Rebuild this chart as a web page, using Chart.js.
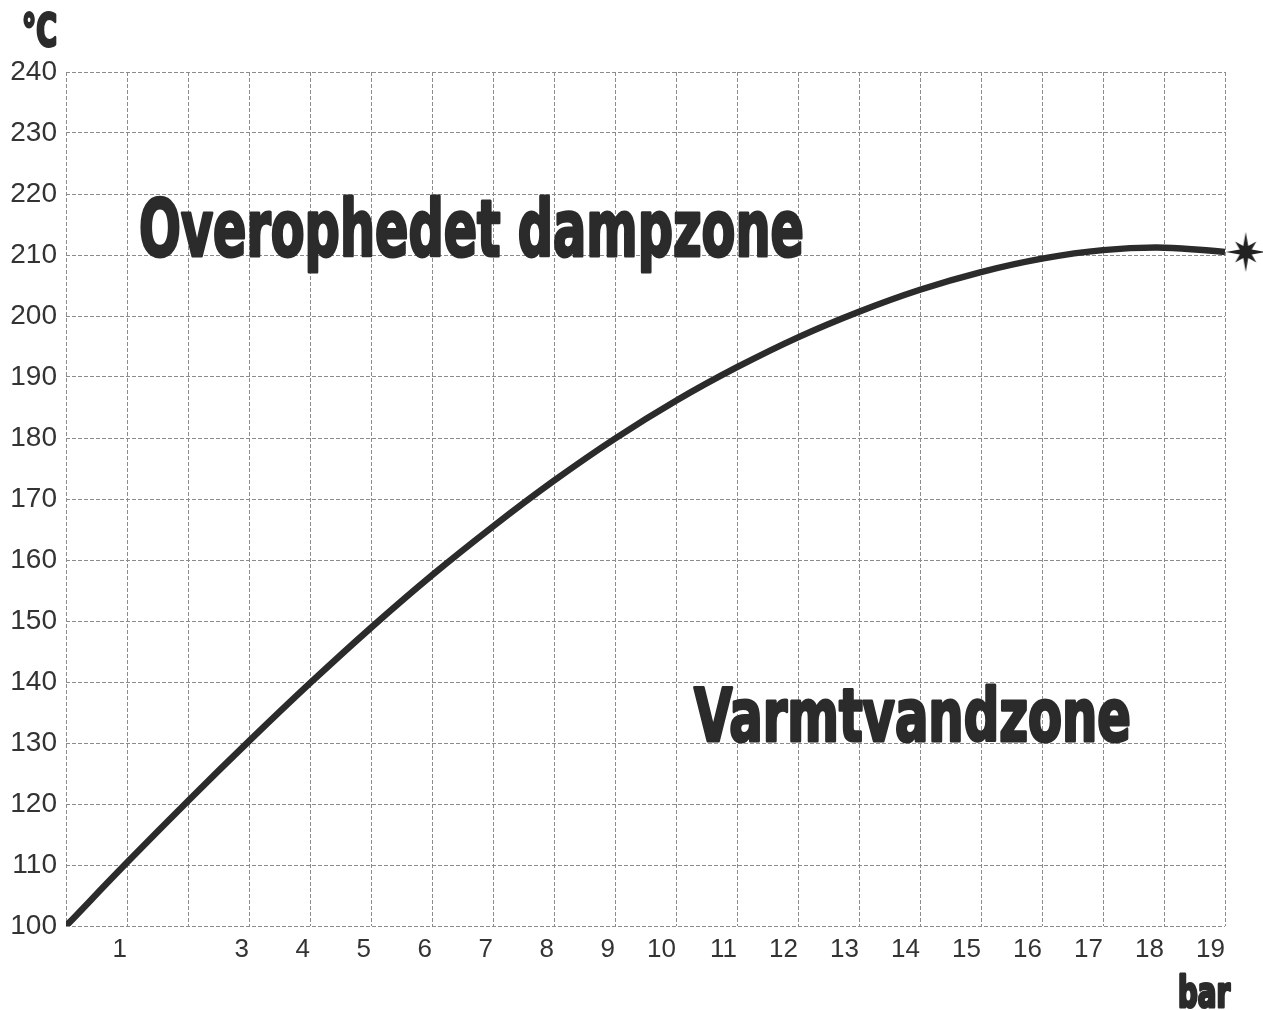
<!DOCTYPE html>
<html>
<head>
<meta charset="utf-8">
<script src="https://cdn.jsdelivr.net/npm/chart.js@4/dist/chart.umd.min.js"></script>
<style>
  html, body { margin: 0; padding: 0; background: #fff; }
  #wrap { width: 1263px; height: 1010px; }
</style>
</head>
<body>
<div id="wrap"><canvas id="steam-graph"></canvas></div>
<script>
"use strict";
// values
const pressure = [0, 1, 2, 3, 4, 5, 6, 7, 8, 9, 10, 11, 12, 13, 14, 15, 16, 17, 18, 19];
const temperature = [100, 110.4, 120.5, 130.3, 139.8, 148.9, 157.5, 165.5, 173.0, 179.9, 186.1, 191.6, 196.5, 200.7, 204.3, 207.2, 209.4, 210.8, 211.2, 210.5];
const hiddenXLabels = [0, 2];
const yTicks = [100, 110, 120, 130, 140, 150, 160, 170, 180, 190, 200, 210, 220, 230, 240];
const starPoint = [{ x: 19.34, y: 210.5 }];

const ink = '#2b2b2b';
const gridGray = '#8c8c8c';

// eight-pointed star used as the point style of the end marker
function makeStar() {
    const c = document.createElement('canvas');
    c.width = 42;
    c.height = 42;
    const g = c.getContext('2d');
    g.fillStyle = '#222';
    g.beginPath();
    for (let i = 0; i < 16; i++) {
        const a = -Math.PI / 2 + i * Math.PI / 8;
        let r = 6.5;
        if (i % 2 === 0) r = (i % 4 === 0) ? 20 : 15;
        const px = 21 + r * Math.cos(a);
        const py = 21 + r * Math.sin(a);
        if (i === 0) g.moveTo(px, py); else g.lineTo(px, py);
    }
    g.closePath();
    g.fill();
    return c;
}

const headline = "bold 80px 'Liberation Sans Narrow', 'DejaVu Sans Condensed', 'Liberation Sans', sans-serif";
function heavyText(ctx, text, x, y, w, size) {
    ctx.save();
    ctx.font = headline.replace('80px', size + 'px');
    ctx.fillStyle = ink;
    ctx.strokeStyle = ink;
    ctx.lineWidth = 3;
    ctx.lineJoin = 'round';
    ctx.textAlign = 'left';
    ctx.textBaseline = 'alphabetic';
    ctx.fillText(text, x, y, w);
    ctx.strokeText(text, x, y, w);
    ctx.restore();
}

const labelsPlugin = {
    id: 'zoneLabels',
    afterDraw(chart) {
        const ctx = chart.ctx;
        heavyText(ctx, 'Overophedet dampzone', 139, 256, 665, 79);
        heavyText(ctx, 'Varmtvandzone', 694, 741, 437, 73);
        heavyText(ctx, '°C', 22, 46, 35, 45);
        heavyText(ctx, 'bar', 1178, 1007, 52, 42);
    }
};

const config = {
    type: 'line',
    data: {
        datasets: [{
                label: 'Mætningstemperatur',
                data: pressure.map((p, i) => ({ x: p, y: temperature[i] })),
                borderColor: ink,
                borderWidth: 6.5,
                pointRadius: 0,
                fill: false,
                tension: 0.4
            }, {
                label: 'Kritisk punkt',
                data: starPoint,
                showLine: false,
                pointStyle: makeStar(),
                pointRadius: 30,
                pointHoverRadius: 30,
                clip: false
            }]
    },
    options: {
        responsive: true,
        maintainAspectRatio: false,
        animation: false,
        events: [],
        layout: { padding: { left: 0, top: 72, right: 38, bottom: 44 } },
        plugins: { legend: { display: false }, tooltip: { enabled: false } },
        scales: {
            x: {
                type: 'linear',
                min: 0,
                max: 19,
                afterFit(scale) { scale.height = 40; },
                afterBuildTicks(scale) { scale.ticks = pressure.map(v => ({ value: v })); },
                grid: { color: gridGray, lineWidth: 1, drawTicks: false },
                border: { display: false, dash: [4, 2] },
                ticks: {
                    autoSkip: false,
                    maxRotation: 0,
                    align: 'end',
                    padding: 8,
                    color: '#333',
                    font: { family: "'Liberation Sans', Arial, sans-serif", size: 26 },
                    callback: (v) => hiddenXLabels.includes(v) ? '' : String(v)
                }
            },
            y: {
                type: 'linear',
                min: 100,
                max: 240,
                afterFit(scale) { scale.width = 66; },
                afterBuildTicks(scale) { scale.ticks = yTicks.map(v => ({ value: v })); },
                grid: { color: gridGray, lineWidth: 1, drawTicks: false },
                border: { display: false, dash: [4, 2] },
                ticks: {
                    padding: 9,
                    color: '#333',
                    font: { family: "'Liberation Sans', Arial, sans-serif", size: 28 }
                }
            }
        }
    },
    plugins: [labelsPlugin]
};

const ctx = document.getElementById('steam-graph').getContext('2d');
new Chart(ctx, config);
</script>
</body>
</html>
